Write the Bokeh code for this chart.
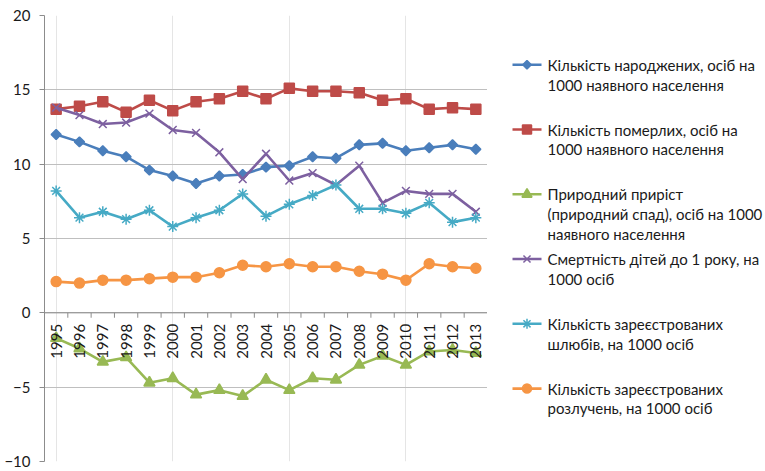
import math
from bokeh.plotting import figure
from bokeh.models import Range1d, FixedTicker, Span
from bokeh.layouts import row
from bokeh.core.properties import value
from bokeh.embed import file_html
from bokeh.resources import INLINE

# ---------------- data ----------------
years = list(range(1995, 2014))
year_labels = [str(y) for y in years]

births = [12.0, 11.5, 10.9, 10.5, 9.6, 9.2, 8.7, 9.2, 9.3, 9.8, 9.9, 10.5, 10.4, 11.3, 11.4, 10.9, 11.1, 11.3, 11.0]
deaths = [13.7, 13.9, 14.2, 13.5, 14.3, 13.6, 14.2, 14.4, 14.9, 14.4, 15.1, 14.9, 14.9, 14.8, 14.3, 14.4, 13.7, 13.8, 13.7]
natural = [-1.7, -2.4, -3.3, -3.0, -4.7, -4.4, -5.5, -5.2, -5.6, -4.5, -5.2, -4.4, -4.5, -3.5, -2.9, -3.5, -2.6, -2.5, -2.7]
infant = [13.8, 13.3, 12.7, 12.8, 13.4, 12.3, 12.1, 10.8, 9.0, 10.7, 8.9, 9.4, 8.6, 9.9, 7.4, 8.2, 8.0, 8.0, 6.8]
marriages = [8.2, 6.4, 6.8, 6.3, 6.9, 5.8, 6.4, 6.9, 8.0, 6.5, 7.3, 7.9, 8.6, 7.0, 7.0, 6.7, 7.4, 6.1, 6.4]
divorces = [2.1, 2.0, 2.2, 2.2, 2.3, 2.4, 2.4, 2.7, 3.2, 3.1, 3.3, 3.1, 3.1, 2.8, 2.6, 2.2, 3.3, 3.1, 3.0]

series_names = [
    "Кількість народжених, осіб на\n1000 наявного населення",
    "Кількість померлих, осіб на\n1000 наявного населення",
    "Природний приріст\n(природний спад), осіб на 1000\nнаявного населення",
    "Смертність дітей до 1 року, на\n1000 осіб",
    "Кількість зареєстрованих\nшлюбів, на 1000 осіб",
    "Кількість зареєстрованих\nрозлучень, на 1000 осіб",
]
series_values = [births, deaths, natural, infant, marriages, divorces]

y_ticks = [-10, -5, 0, 5, 10, 15, 20]

# ---------------- styles ----------------
colors = ["#4a7ebb", "#be4b48", "#98b954", "#7d60a0", "#46aac5", "#f69544"]
markers = [
    dict(marker="square", size=7, angle=math.pi / 4),
    dict(marker="square", size=10, angle=0),
    dict(marker="triangle", size=11, angle=0),
    dict(marker="x", size=11, angle=0),
    dict(marker="asterisk", size=11, angle=0),
    dict(marker="circle", size=10, angle=0),
]
FONT = "Lato"
FS = "15px"
TXT = "#1a1a1a"

# ---------------- main chart ----------------
p = figure(width=487, height=471,
           x_range=Range1d(years[0] - 0.5, years[-1] + 0.5),
           y_range=Range1d(y_ticks[0], y_ticks[-1]),
           x_axis_location=None,
           output_backend="svg", toolbar_location=None,
           min_border_left=44, min_border_right=0,
           min_border_top=15, min_border_bottom=10)
p.outline_line_color = None
p.background_fill_color = "white"
p.border_fill_color = "white"

p.yaxis.ticker = FixedTicker(ticks=y_ticks)
p.yaxis.axis_line_color = "#8c8c8c"
p.yaxis.major_tick_line_color = "#8c8c8c"
p.yaxis.major_tick_out = 5
p.yaxis.major_tick_in = 0
p.yaxis.minor_tick_line_color = None
p.yaxis.major_label_standoff = 9
p.yaxis.major_label_text_font = FONT
p.yaxis.major_label_text_font_size = FS
p.yaxis.major_label_text_color = TXT
p.ygrid.grid_line_color = "#bfbfbf"
p.ygrid.grid_line_width = 1

# category axis crossing at zero
p.add_layout(Span(location=0, dimension="width", line_color="#8c8c8c", line_width=1))
bounds = [y - 0.5 for y in years] + [years[-1] + 0.5]
p.segment(x0=bounds, y0=[0] * len(bounds), x1=bounds, y1=[-0.33] * len(bounds),
          line_color="#8c8c8c", line_width=1)

for vals, col, mk in zip(series_values, colors, markers):
    p.line(years, vals, line_color=col, line_width=2.6)
    p.scatter(years, vals, marker=mk["marker"], size=mk["size"], angle=mk["angle"],
              fill_color=col, line_color=col, line_width=1.5)

p.text(x=years, y=[0] * len(years), text=year_labels, angle=math.pi / 2,
       text_align="right", text_baseline="middle", y_offset=11,
       text_font=value(FONT), text_font_size=value(FS), text_color=TXT)

# ---------------- legend panel ----------------
lg = figure(width=278, height=471, x_range=Range1d(0, 278), y_range=Range1d(471, 0),
            output_backend="svg", toolbar_location=None,
            min_border=0, x_axis_location=None, y_axis_location=None)
lg.outline_line_color = None
lg.xgrid.visible = False
lg.ygrid.visible = False

top = 52
step = 68.4
lh = 21
for i, (name, col, mk) in enumerate(zip(series_names, colors, markers)):
    yy = top + i * step
    lg.line([25, 54], [yy, yy], line_color=col, line_width=2.6)
    lg.scatter([39.5], [yy], marker=mk["marker"], size=mk["size"] - 1, angle=mk["angle"],
               fill_color=col, line_color=col, line_width=1.5)
    lines = name.split("\n")
    lg.text(x=[60] * len(lines), y=[yy + j * lh for j in range(len(lines))], text=lines,
            text_align="left", text_baseline="middle",
            text_font=value(FONT), text_font_size=value(FS), text_color=TXT)

layout = row(p, lg)
open("out.html", "w").write(file_html(layout, INLINE))
